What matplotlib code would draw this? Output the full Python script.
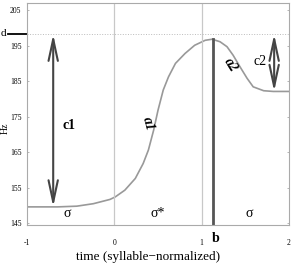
import numpy as np
import matplotlib
matplotlib.use("Agg")
import matplotlib.pyplot as plt
import matplotlib.transforms as mtransforms

plt.rcParams['font.family'] = ['Liberation Serif', 'DejaVu Serif']

# F0 contour (syllable-normalized time, Hz)
t = [-1.0, -0.8, -0.65, -0.43, -0.24, -0.05, 0.01, 0.12, 0.24, 0.33, 0.39, 0.45, 0.50,
     0.56, 0.62, 0.70, 0.81, 0.92, 1.04, 1.12, 1.21, 1.29, 1.36, 1.44, 1.52, 1.59,
     1.71, 1.82, 2.0]
f0 = [149.6, 149.6, 149.6, 149.8, 150.5, 151.7, 152.4, 154.3, 157.6, 161.8, 165.6, 171.2, 176.8,
      182.5, 186.2, 190.0, 192.8, 195.1, 196.5, 196.8, 196.1, 194.7, 192.3, 189.0, 185.8, 183.4,
      182.3, 182.1, 182.1]

d_val = 198.2
low_val = 149.6
end_val = 182.1
b_pos = 1.13
peak_val = 196.8
c1_x = -0.7
c2_x = 1.83

yticks = [145, 155, 165, 175, 185, 195, 205]
xticks = [-1, 0, 1, 2]

fig = plt.figure(figsize=(2.97, 2.64), dpi=100)
ax = fig.add_axes([27/297, 1-225/264, 262/297, 222/264])

ax.plot(t, f0, color='#999999', lw=1.2)

ax.axvline(0, color='#c8c8c8', lw=0.9)
ax.axvline(1, color='#c8c8c8', lw=0.9)
ax.axhline(d_val, color='#bbbbbb', lw=0.7, ls=':')
ax.plot([b_pos, b_pos], [144, peak_val], color='#555555', lw=2)

# arrows
arrow_kw = dict(arrowstyle='<->,head_length=1.3,head_width=0.28', color='#444444',
                lw=1.5, mutation_scale=12, shrinkA=0, shrinkB=0)
ax.annotate('', xy=(c1_x, d_val), xytext=(c1_x, low_val), arrowprops=arrow_kw)
ax.annotate('', xy=(c2_x, d_val), xytext=(c2_x, end_val), arrowprops=arrow_kw)

ax.text(-0.52, 172.6, 'c1', fontsize=10, fontweight='bold', ha='center', va='center')
ax.text(1.67, 190.4, 'c2', fontsize=10, ha='center', va='center')
ax.text(0.39, 173, 'a1', fontsize=10, fontweight='bold', fontstyle='italic',
        rotation=-75, ha='center', va='center')
ax.text(1.33, 189.5, 'a2', fontsize=10, fontweight='bold', fontstyle='italic',
        rotation=-58, ha='center', va='center')
ax.text(-0.54, 147.8, 'σ', fontsize=10, ha='center', va='center')
ax.text(0.5, 147.8, 'σ*', fontsize=10, ha='center', va='center')
ax.text(1.55, 147.8, 'σ', fontsize=10, ha='center', va='center')

ax.set_xlim(-1, 2)
ax.set_ylim(144.5, 207)
ax.set_yticks(yticks)
ax.set_xticks(xticks)
ax.set_yticklabels([str(v) for v in yticks], fontsize=5.5)
ax.set_xticklabels([str(v) for v in xticks], fontsize=5.5)
ax.tick_params(axis='y', length=1.5, width=0.5, color='#999999', pad=4, right=True, direction='in')
ax.tick_params(axis='x', length=0, pad=10)
for s in ax.spines.values():
    s.set_color('#aaaaaa')
    s.set_linewidth(0.8)

# b label below axis
ax.text(b_pos + 0.03, -0.06, 'b', transform=mtransforms.blended_transform_factory(ax.transData, ax.transAxes),
        fontsize=10, fontweight='bold', ha='center', va='center')

# d marker outside left
trans = mtransforms.blended_transform_factory(fig.transFigure, ax.transData)
ax.plot([8/297, 27/297], [d_val, d_val], color='black', lw=1.3, transform=trans, clip_on=False)
fig.text(0.5/297, 1-34/264, 'd', fontsize=8, ha='left', va='center')

fig.text(0.5/297, 1-128/264, 'Hz', fontsize=7, rotation=90, ha='left', va='center')
fig.text(148/297, 1-257/264, 'time (syllable\u2212normalized)', fontsize=9.5, ha='center', va='center')

fig.savefig('out.png', dpi=100)
